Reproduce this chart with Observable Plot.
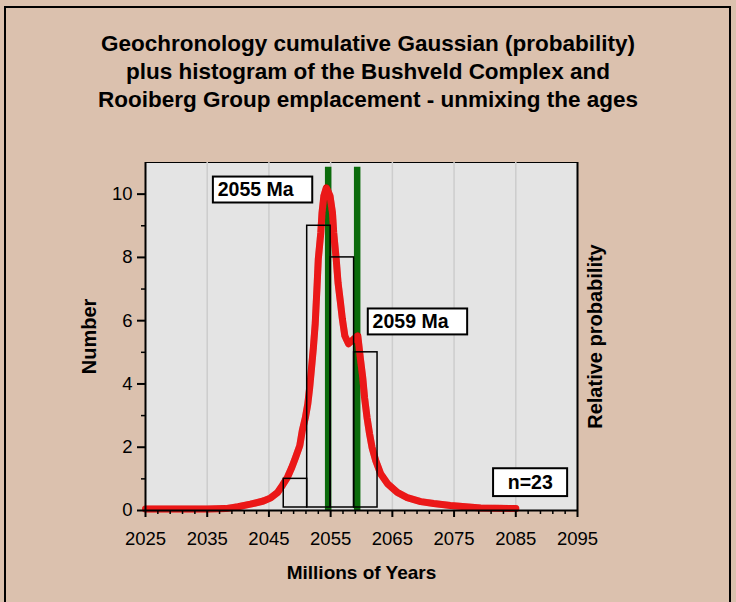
<!DOCTYPE html>
<html>
<head>
<meta charset="utf-8">
<script src="https://cdn.jsdelivr.net/npm/d3@7"></script>
<script src="https://cdn.jsdelivr.net/npm/@observablehq/plot@0.6"></script>
<style>
  html, body { margin: 0; padding: 0; background: #dbc1ae; }
  #wrap { position: relative; width: 736px; height: 602px; overflow: hidden;
          font-family: "Liberation Sans", Arial, sans-serif; background: #dbc1ae; }
  #border { position: absolute; left: 4px; top: 6px; width: 727px; height: 700px;
            border: 2px solid #000; box-sizing: border-box; }
  #title { position: absolute; left: 0; top: 30px; width: 736px; text-align: center;
           font-weight: bold; font-size: 22.5px; line-height: 28px; color: #000; }
  #chart { position: absolute; left: 0; top: 0; }
</style>
</head>
<body>
<div id="wrap">
  <div id="border"></div>
  <div id="chart"></div>
  <div id="title">Geochronology cumulative Gaussian (probability)<br>plus histogram of the Bushveld Complex and<br>Rooiberg Group emplacement - unmixing the ages</div>
</div>
<script>
// ---- Data ----
// Relative probability curve (in "Number" units)
const curveYears = [2025, 2030, 2035, 2038, 2040, 2042.0, 2044.1, 2045.3, 2046.4, 2047.2, 2048.0, 2048.7, 2049.3, 2050.0,
  2050.4, 2050.9, 2051.3, 2051.6, 2051.9, 2052.2, 2052.5, 2052.8, 2053.0, 2053.4, 2053.6, 2053.9,
  2054.3, 2054.9, 2055.3, 2055.5, 2055.9, 2056.2, 2056.6, 2056.9, 2057.3, 2057.9, 2058.8, 2059.4,
  2059.8, 2060.2, 2060.5, 2060.9, 2061.3, 2061.7, 2062.3, 2063.1, 2064.2, 2065.8, 2067.4, 2069.6,
  2071.7, 2074.4, 2079.3, 2085];
const curveProb = [0.05, 0.05, 0.05, 0.06, 0.12, 0.2, 0.3, 0.4, 0.57, 0.8, 1.05, 1.36, 1.67, 2.05,
  2.52, 2.93, 3.37, 3.88, 4.5, 5.14, 5.9, 7.1, 7.95, 8.77, 9.4, 9.94,
  10.2, 9.94, 9.4, 8.77, 7.95, 7.2, 6.56, 6.05, 5.52, 5.27, 5.43, 5.52,
  4.83, 4.2, 3.56, 2.93, 2.43, 2.0, 1.58, 1.16, 0.85, 0.57, 0.41, 0.28,
  0.22, 0.16, 0.08, 0.06];

// Histogram
const binStart = [2047.4, 2051.2, 2055.0, 2058.8];
const binEnd   = [2051.2, 2055.0, 2058.8, 2062.6];
const counts   = [1, 9, 8, 5];

// Unmixed peak ages
const peakAges = [2054.6, 2059.3];
const peakTop = 10.85;

// Ticks
const xTicks = [2025, 2035, 2045, 2055, 2065, 2075, 2085, 2095];
const xMinor = d3.range(2027, 2095, 2).filter(v => (v - 2025) % 10 !== 0);
const gridYears = [2035, 2045, 2055, 2065, 2075, 2085];
const yTicks = [0, 2, 4, 6, 8, 10];
const yMinor = [1, 3, 5, 7, 9];

// Annotation boxes
const annoLabels = ["2055 Ma", "2059 Ma", "n=23"];
const annoX1 = [2036.0, 2061.1, 2081.4];
const annoX2 = [2052.1, 2077.2, 2093.4];
const annoY1 = [9.72, 5.55, 0.44];
const annoY2 = [10.54, 6.37, 1.32];
const annoTextX = [2036.7, 2061.8, 2083.7];
const annoTextY = [10.13, 5.96, 0.88];

// ---- Build tables ----
const curve = curveYears.map((x, i) => ({x, y: curveProb[i]}));
const bars = counts.map((c, i) => ({x1: binStart[i], x2: binEnd[i], y: c}));
const annos = annoLabels.map((label, i) => ({label, x1: annoX1[i], x2: annoX2[i], y1: annoY1[i], y2: annoY2[i], tx: annoTextX[i], ty: annoTextY[i]}));

const font = "Liberation Sans, Arial, sans-serif";

const chart = Plot.plot({
  width: 736,
  height: 602,
  marginLeft: 145,
  marginRight: 159,
  marginTop: 162,
  marginBottom: 92,
  style: {background: "transparent", fontFamily: font, fontSize: "18px", color: "#000"},
  x: {domain: [2025, 2095], label: null},
  y: {domain: [0, 11], label: null},
  marks: [
    Plot.frame({fill: "#e4e4e4", stroke: "#000", strokeWidth: 1}),
    Plot.ruleX(gridYears, {stroke: "#cdcdcd", strokeWidth: 1.5}),
    Plot.ruleX(peakAges, {y1: 0, y2: peakTop, stroke: "#0b6b0b", strokeWidth: 6.5}),
    Plot.line(curve, {x: "x", y: "y", stroke: "#e20000", strokeWidth: 7, strokeLinejoin: "round"}),
    Plot.line(curve, {x: "x", y: "y", stroke: "#ff5050", strokeOpacity: 0.3, strokeWidth: 7, strokeDasharray: "1,2.5"}),
    Plot.rect(bars, {x1: "x1", x2: "x2", y1: 0, y2: "y", fill: "none", stroke: "#000", strokeWidth: 1.5, insetBottom: 3}),
    Plot.ruleX([2025, 2095], {stroke: "#000", strokeWidth: 2}),
    Plot.ruleY([0], {stroke: "#000", strokeWidth: 2}),
    Plot.axisX({ticks: xTicks, tickSize: 7, tickPadding: 14, tickFormat: "d", fontSize: 18.5, label: null, strokeWidth: 2}),
    Plot.axisX({ticks: xMinor, tickSize: 4, tickFormat: () => "", label: null, strokeWidth: 1.5}),
    Plot.axisY({ticks: yTicks, tickSize: 8, tickPadding: 5, tickFormat: "d", fontSize: 18.5, label: null, strokeWidth: 2}),
    Plot.axisY({ticks: yMinor, tickSize: 4, tickFormat: () => "", label: null, strokeWidth: 1.5}),
    Plot.rect(annos, {x1: "x1", x2: "x2", y1: "y1", y2: "y2", fill: "white", stroke: "#000", strokeWidth: 2}),
    Plot.text(annos, {x: "tx", y: "ty", text: "label", textAnchor: "start", lineAnchor: "middle", fontWeight: "bold", fontSize: 19.5, fill: "#000"}),
    Plot.text(["Millions of Years"], {frameAnchor: "bottom", dy: 62, text: d => d, textAnchor: "middle", lineAnchor: "middle", fontWeight: "bold", fontSize: 19, fill: "#000"}),
    Plot.text(["Number"], {frameAnchor: "left", dx: -56, rotate: -90, text: d => d, textAnchor: "middle", lineAnchor: "middle", fontWeight: "bold", fontSize: 20, fill: "#000"}),
    Plot.text(["Relative probability"], {frameAnchor: "right", dx: 18, rotate: -90, text: d => d, textAnchor: "middle", lineAnchor: "middle", fontWeight: "bold", fontSize: 20, fill: "#000"})
  ]
});
document.getElementById("chart").appendChild(chart);
</script>
</body>
</html>
